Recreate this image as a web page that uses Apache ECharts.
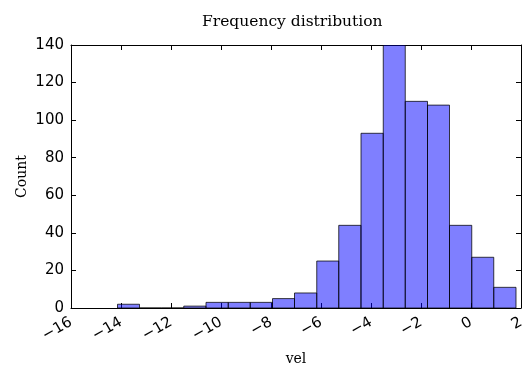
<!DOCTYPE html>
<html>
<head>
<meta charset="utf-8">
<script src="https://cdn.jsdelivr.net/npm/echarts@6/dist/echarts.min.js"></script>
<style>
  html, body { margin: 0; padding: 0; background: #fff; }
  #main { width: 523px; height: 367px; }
</style>
</head>
<body>
<div id="main"></div>
<script>
// histogram bins: left edges, right edges and counts
const binLeft = [-14.14, -13.26, -12.37, -11.49, -10.60, -9.71, -8.83, -7.94, -7.06,
  -6.17, -5.29, -4.40, -3.51, -2.63, -1.74, -0.86, 0.03, 0.91];
const binRight = [-13.26, -12.37, -11.49, -10.60, -9.71, -8.83, -7.94, -7.06, -6.17,
  -5.29, -4.40, -3.51, -2.63, -1.74, -0.86, 0.03, 0.91, 1.80];
const counts = [2, 0, 0, 1, 3, 3, 3, 5, 8, 25, 44, 93, 140, 110, 108, 44, 27, 11];

const xTicks = [-16, -14, -12, -10, -8, -6, -4, -2, 0, 2];
const yTicks = [0, 20, 40, 60, 80, 100, 120, 140];

const myChart = echarts.init(document.getElementById('main'));

const seriesData = binLeft.map((l, i) => [l, binRight[i], counts[i]]);
const minus = v => String(v).replace('-', '\u2212');

const axisLine = { show: true, onZero: false, lineStyle: { color: '#000', width: 1 } };
const tick = { show: true, inside: true, length: 5, lineStyle: { color: '#000' } };

const option = {
  animation: false,
  title: {
    text: 'Frequency distribution',
    left: 197,
    top: 9,
    textStyle: { fontFamily: 'DejaVu Serif', fontWeight: 'normal', fontSize: 15.5, color: '#000' }
  },
  grid: { left: 71, right: 2, top: 45, bottom: 59, outerBoundsMode: 'none', containLabel: false },
  xAxis: [{
    type: 'value',
    min: xTicks[0],
    max: xTicks[xTicks.length - 1],
    interval: 2,
    name: 'vel',
    nameLocation: 'middle',
    nameGap: 44,
    nameMoveOverlap: false,
    nameTextStyle: { fontFamily: 'DejaVu Serif', fontSize: 14, color: '#000', verticalAlign: 'top' },
    axisLine: axisLine,
    axisTick: tick,
    splitLine: { show: false },
    axisLabel: {
      rotate: 30,
      margin: 13,
      fontFamily: 'DejaVu Sans',
      fontSize: 15,
      color: '#000',
      formatter: minus
    }
  }, {
    type: 'value',
    position: 'top',
    min: xTicks[0],
    max: xTicks[xTicks.length - 1],
    interval: 2,
    axisLine: axisLine,
    axisTick: tick,
    axisLabel: { show: false },
    splitLine: { show: false }
  }],
  yAxis: [{
    type: 'value',
    min: yTicks[0],
    max: yTicks[yTicks.length - 1],
    interval: 20,
    name: 'Count',
    nameLocation: 'middle',
    nameGap: 42,
    nameMoveOverlap: false,
    nameTextStyle: { fontFamily: 'DejaVu Serif', fontSize: 14, color: '#000' },
    axisLine: axisLine,
    axisTick: tick,
    splitLine: { show: false },
    axisLabel: { fontFamily: 'DejaVu Sans', fontSize: 15, color: '#000', margin: 7 }
  }, {
    type: 'value',
    position: 'right',
    min: yTicks[0],
    max: yTicks[yTicks.length - 1],
    interval: 20,
    axisLine: axisLine,
    axisTick: tick,
    axisLabel: { show: false },
    splitLine: { show: false }
  }],
  series: [{
    type: 'custom',
    xAxisIndex: 0,
    yAxisIndex: 0,
    data: seriesData,
    clip: true,
    renderItem: function (params, api) {
      const p0 = api.coord([api.value(0), 0]);
      const p1 = api.coord([api.value(1), api.value(2)]);
      return {
        type: 'rect',
        shape: { x: p0[0], y: p1[1], width: p1[0] - p0[0], height: p0[1] - p1[1] },
        style: { fill: 'rgba(0,0,255,0.5)', stroke: 'rgba(0,0,0,0.75)', lineWidth: 1 }
      };
    }
  }]
};

myChart.setOption(option);
</script>
</body>
</html>
